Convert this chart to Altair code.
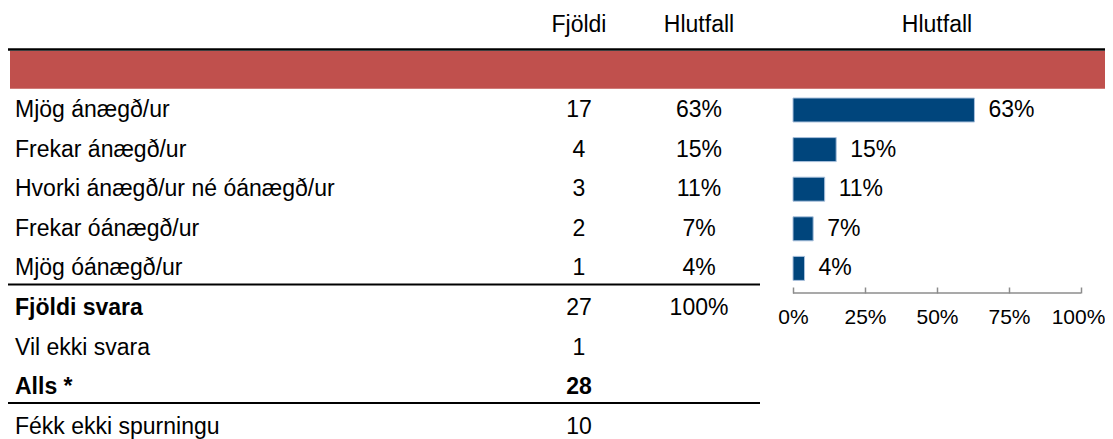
import altair as alt
import pandas as pd

# ---- data ----
labels = ["Mjög ánægð/ur", "Frekar ánægð/ur", "Hvorki ánægð/ur né óánægð/ur",
          "Frekar óánægð/ur", "Mjög óánægð/ur", "Fjöldi svara", "Vil ekki svara",
          "Alls *", "Fékk ekki spurningu"]
counts = [17, 4, 3, 2, 1, 27, 1, 28, 10]
pct_text = ["63%", "15%", "11%", "7%", "4%", "100%", "", "", ""]
label_bold = [False, False, False, False, False, True, False, True, False]
count_bold = [False, False, False, False, False, False, False, True, False]

bar_labels = labels[:5]
bar_shares = [0.63, 0.15, 0.11, 0.07, 0.04]

headers = ["Fjöldi", "Hlutfall", "Hlutfall"]
axis_ticks = [0, 0.25, 0.5, 0.75, 1]

FONT = "Liberation Sans Narrow, Arial Narrow, Liberation Sans, Arial"
FS = 23
W, H = 1097, 431

table = pd.DataFrame({
    "idx": list(range(len(labels))),
    "label": labels,
    "count": counts,
    "pct": pct_text,
    "lbold": label_bold,
    "cbold": count_bold,
})
bars = pd.DataFrame({
    "idx": list(range(len(bar_labels))),
    "label": bar_labels,
    "share": bar_shares,
})

yscale = alt.Scale(domain=[0, 8], range=[102, 418.8], nice=False, zero=False)
xscale = alt.Scale(domain=[0, 1], range=[785, 1073], nice=False, zero=True)

base_t = alt.Chart(table)


def txt(weight, align, xpos, field, flt):
    return base_t.transform_filter(flt).mark_text(
        align=align, baseline="middle", font=FONT, fontSize=FS, color="black", fontWeight=weight
    ).encode(
        x=alt.value(xpos),
        y=alt.Y("idx:Q", scale=yscale, axis=None),
        text=field,
    )


label_n = txt("normal", "left", 7, "label:N", "!datum.lbold")
label_b = txt("bold", "left", 7, "label:N", "datum.lbold")
count_n = txt("normal", "center", 571, "count:Q", "!datum.cbold")
count_b = txt("bold", "center", 571, "count:Q", "datum.cbold")
pct_layer = txt("normal", "center", 691, "pct:N", "datum.pct != ''")

hdr_df = pd.DataFrame({"h": headers, "col": [0, 1, 2]})
hdr_x = [571, 691, 929]
hdr_layers = [
    alt.Chart(hdr_df).transform_filter(f"datum.col == {i}").mark_text(
        align="center", baseline="middle", font=FONT, fontSize=FS, color="black"
    ).encode(x=alt.value(hdr_x[i]), y=alt.value(17), text="h:N")
    for i in range(3)
]

one = alt.Chart(hdr_df).transform_filter("datum.col == 0")
band = one.mark_rect(color="#C0504D").encode(
    x=alt.value(2), x2=alt.value(W + 8), y=alt.value(43), y2=alt.value(80.7)
)
top_line = one.mark_rule(color="black", strokeWidth=2.5).encode(
    x=alt.value(0), x2=alt.value(W + 8), y=alt.value(41.5)
)
line1 = one.mark_rule(color="black", strokeWidth=2).encode(
    x=alt.value(0), x2=alt.value(752), y=alt.value(276.5)
)
line2 = one.mark_rule(color="black", strokeWidth=2).encode(
    x=alt.value(0), x2=alt.value(752), y=alt.value(395)
)

base_b = alt.Chart(bars).transform_calculate(y0="datum.idx - 0.303", y1="datum.idx + 0.303")
bar_layer = base_b.mark_bar(color="#00457C", stroke="#A8C0DC", strokeWidth=1).encode(
    x=alt.X("share:Q", scale=xscale, axis=alt.Axis(
        values=axis_ticks, format="%", orient="bottom", offset=-152, domain=False,
        ticks=True, tickSize=6, tickColor="#8C8C8C", tickWidth=1.5, grid=False,
        labelFont=FONT, labelFontSize=21, labelColor="black", labelPadding=13,
        labelBaseline="top", labelOverlap=False, labelFlush=False, title=None,
        labelOffset={"condition": {"test": "datum.value == 1", "value": -3}, "value": 0})),
    x2=alt.datum(0),
    y=alt.Y("y0:Q", scale=yscale, axis=None),
    y2="y1:Q",
)
bar_text = alt.Chart(bars).mark_text(align="left", baseline="middle", dx=14, font=FONT, fontSize=FS, color="black").encode(
    x=alt.X("share:Q", scale=xscale),
    y=alt.Y("idx:Q", scale=yscale, axis=None),
    text=alt.Text("share:Q", format=".0%"),
)
axis_rule = one.mark_rule(color="#8C8C8C", strokeWidth=1.5).encode(
    x=alt.datum(0, scale=xscale), x2=alt.datum(1), y=alt.value(285)
)

chart = alt.layer(
    band, top_line, line1, line2, *hdr_layers,
    label_n, label_b, count_n, count_b, pct_layer,
    bar_layer, bar_text, axis_rule,
).properties(
    width=W, height=H, padding=0, autosize=alt.AutoSizeParams(type="none"),
    background="white",
).configure_view(stroke=None)

chart.save("out.html", embed_options={"renderer": "svg", "actions": False})
